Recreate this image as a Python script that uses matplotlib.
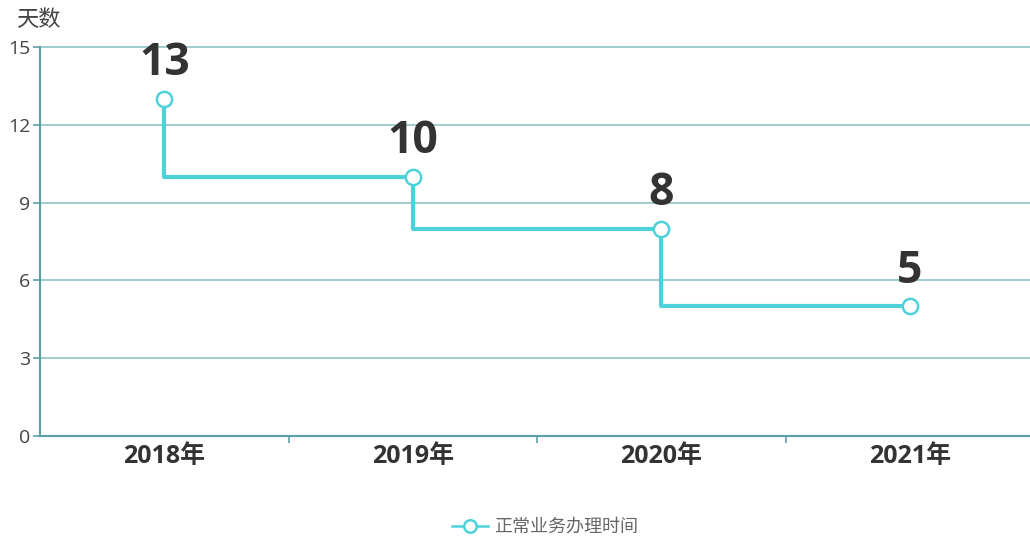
import matplotlib.pyplot as plt
import numpy as np

plt.rcParams['font.family'] = ['Open Sans', 'Noto Sans CJK SC', 'DejaVu Sans']

# ---- data ----
years = ['2018年', '2019年', '2020年', '2021年']
days = [13, 10, 8, 5]
yticks = [0, 3, 6, 9, 12, 15]
series_name = '正常业务办理时间'

line_c = '#4fd1d9'
grid_c = '#8fc3c8'
axis_c = '#5b9ea6'

fig = plt.figure(figsize=(10.3, 5.4), dpi=100)
# plot area in pixels: left 40, right ~1034, top 47, bottom 436
ax = fig.add_axes([40/1030, (540-436)/540, 994/1030, (436-47)/540])

x = np.arange(len(years))
ax.plot(x, days, drawstyle='steps-pre', color=line_c, lw=3, zorder=3)
ax.plot(x, days, ls='none', marker='o', ms=11, mfc='white', mec=line_c,
        mew=1.8, zorder=4)

for xi, v in zip(x, days):
    ax.annotate(str(v), (xi, v), xytext=(0, 9), textcoords='offset points',
                ha='center', va='bottom', fontsize=32, fontweight='bold',
                color='#333333', zorder=5)

ax.set_xlim(-0.5, len(years) - 0.5)
ax.set_ylim(0, 15)
ax.set_yticks(yticks)
ax.set_yticklabels([str(t) for t in yticks], fontsize=14, color='#444444')
ax.yaxis.grid(True, color=grid_c, lw=1.2)
for gl in ax.get_ygridlines():
    gl.set_clip_on(False)
ax.set_axisbelow(True)

ax.set_xticks(x)
ax.set_xticklabels(years, fontsize=18, fontweight='bold', color='#333333')
ax.tick_params(axis='x', length=0, pad=6)
ax.set_xticks(np.arange(0.5, len(years) - 0.5, 1), minor=True)
ax.tick_params(axis='x', which='minor', length=5, color=axis_c, width=1.2)
ax.tick_params(axis='y', length=5, color=axis_c, width=1.2, pad=2)

for s in ['top', 'right']:
    ax.spines[s].set_visible(False)
for s in ['left', 'bottom']:
    ax.spines[s].set_color(axis_c)
    ax.spines[s].set_linewidth(1.5)

fig.text(16/1030, 1 - 21/540, '天数', fontsize=16, color='#444444',
         ha='left', va='center')

leg = fig.legend([plt.Line2D([], [], color=line_c, lw=1.8, marker='o', ms=9,
                             mfc='white', mec=line_c, mew=1.8)],
                 [series_name], loc='center', bbox_to_anchor=(545/1030, 1 - 527/540),
                 frameon=False, fontsize=13, handlelength=2.0, handletextpad=0.3)
for t in leg.get_texts():
    t.set_color('#666666')

fig.savefig('out.png', dpi=100)
